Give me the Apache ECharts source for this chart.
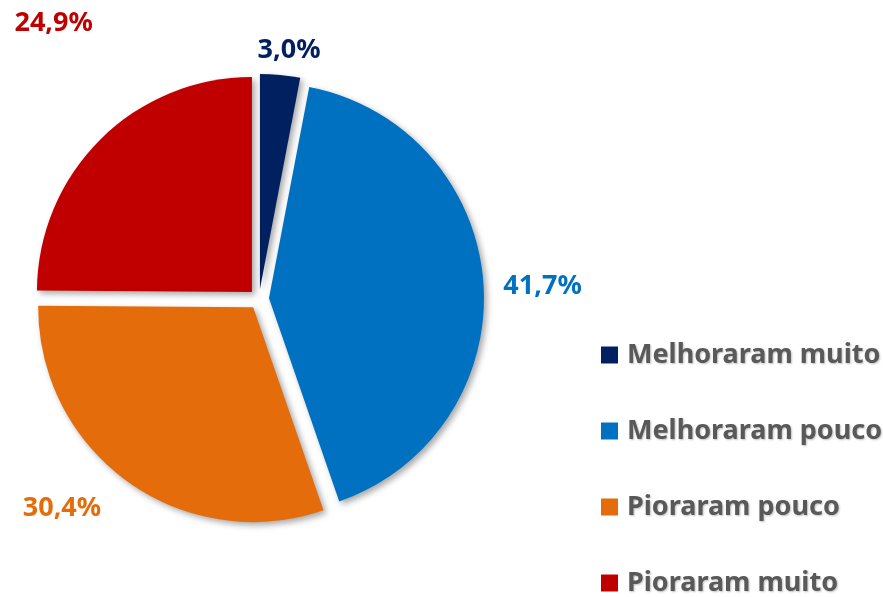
<!DOCTYPE html>
<html>
<head>
<meta charset="utf-8">
<script src="https://cdn.jsdelivr.net/npm/echarts@6/dist/echarts.min.js"></script>
<style>
html,body{margin:0;padding:0;background:#fff;}
#chart{width:883px;height:597px;}
</style>
</head>
<body>
<div id="chart"></div>
<script>
const categories = ['Melhoraram muito', 'Melhoraram pouco', 'Pioraram pouco', 'Pioraram muito'];
const values = [3.0, 41.7, 30.4, 24.9];

// styling (kept apart from the data)
const colors = ['#002060', '#0070C0', '#E46C0A', '#C00000'];
const labelOffsets = [[-29, -10], [0, 5], [-13, 14], [8, -105]];

const chart = echarts.init(document.getElementById('chart'), null, {renderer: 'canvas'});
const data = categories.map((name, i) => ({
  name: name,
  value: values[i],
  selected: true,
  itemStyle: {color: colors[i]},
  label: {color: colors[i]}
}));

chart.setOption({
  animation: false,
  backgroundColor: '#ffffff',
  legend: {
    orient: 'vertical',
    left: 601,
    top: 340,
    height: 300,
    padding: 0,
    icon: 'rect',
    itemWidth: 17,
    itemHeight: 17,
    itemGap: 46,
    selectedMode: false,
    data: categories,
    textStyle: {
      fontFamily: 'Noto Sans',
      fontWeight: 'bold',
      fontSize: 27,
      lineHeight: 30,
      color: '#595959',
      padding: [0, 0, 0, 4],
      textShadowColor: 'rgba(0,0,0,0.25)',
      textShadowBlur: 2,
      textShadowOffsetX: 1,
      textShadowOffsetY: 1
    }
  },
  series: [{
    type: 'pie',
    center: [259, 299],
    radius: [0, 215],
    startAngle: 90,
    clockwise: true,
    selectedMode: 'multiple',
    selectedOffset: 10,
    avoidLabelOverlap: false,
    emphasis: {disabled: true},
    itemStyle: {
      shadowColor: 'rgba(0,0,0,0.35)',
      shadowBlur: 6,
      shadowOffsetX: 3,
      shadowOffsetY: 3
    },
    label: {
      show: true,
      position: 'outside',
      formatter: p => p.value.toFixed(1).replace('.', ',') + '%',
      fontFamily: 'Noto Sans',
      fontWeight: 'bold',
      fontSize: 27
    },
    labelLine: {show: false, length: 15, length2: 0},
    labelLayout: params => ({
      dx: labelOffsets[params.dataIndex][0],
      dy: labelOffsets[params.dataIndex][1]
    }),
    data: data
  }]
});
</script>
</body>
</html>
